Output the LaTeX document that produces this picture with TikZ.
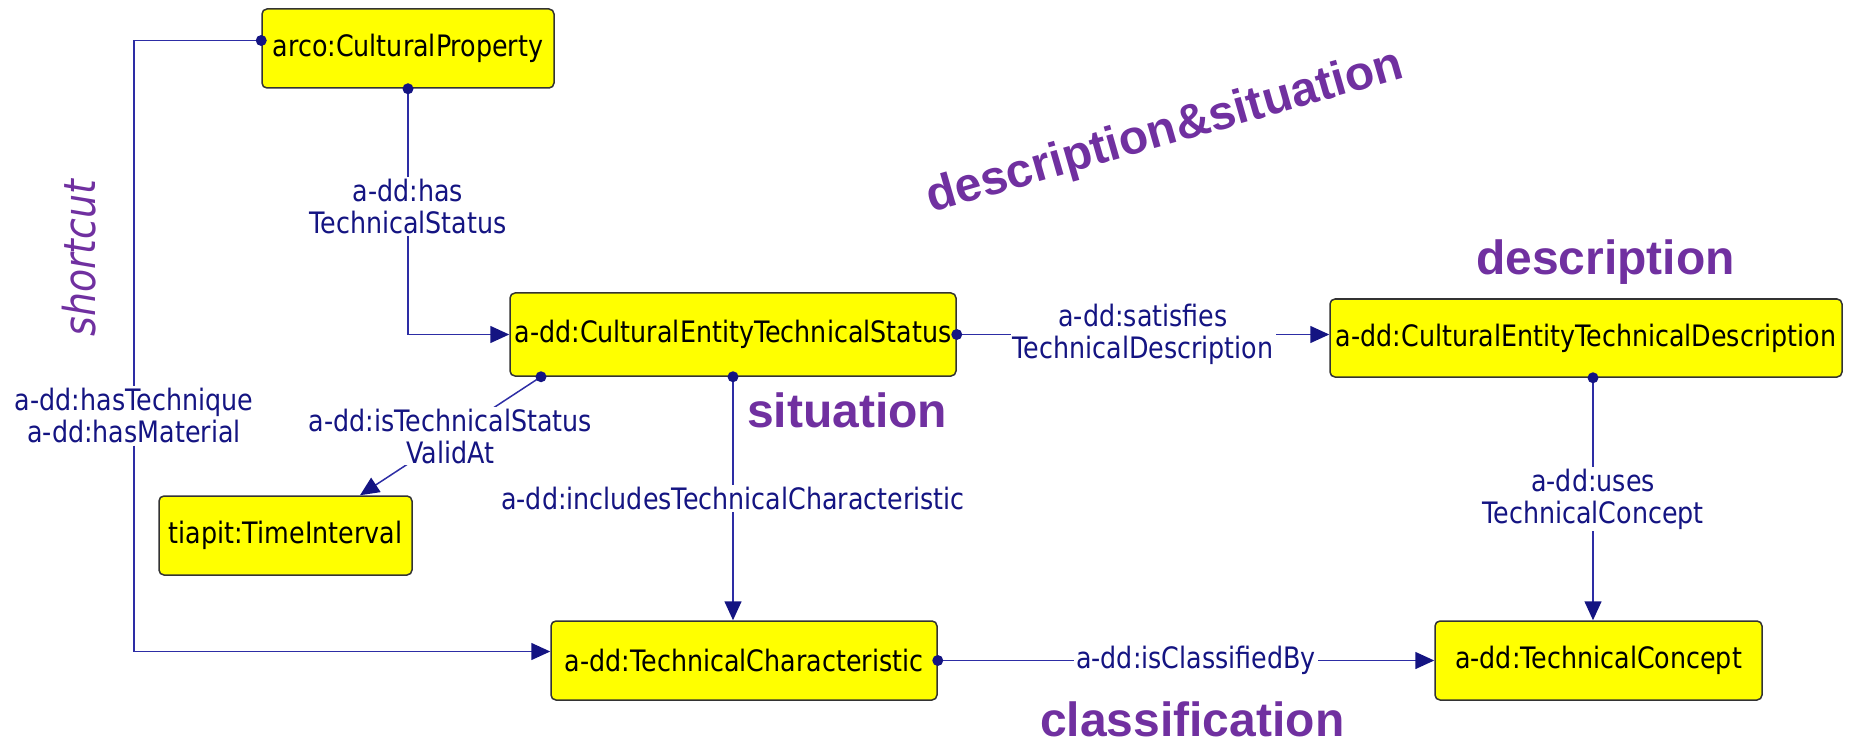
\documentclass[tikz,border=0pt]{standalone}
\usepackage{fontspec}
\setmainfont{DejaVu Sans}
\newfontfamily\lucida[FakeStretch=0.86]{DejaVu Sans}
\newfontfamily\arialfont{Liberation Sans}
\usetikzlibrary{arrows.meta}
\definecolor{navy}{RGB}{20,20,130}
\definecolor{linec}{RGB}{45,45,165}
\definecolor{purp}{RGB}{112,48,160}
\definecolor{boxy}{RGB}{255,255,0}
\begin{document}
\begin{tikzpicture}[x=1pt,y=-1pt,
  cls/.style={draw=black!80, line width=1.5pt, fill=boxy, rounded corners=5pt,
    font=\lucida\fontsize{29.5}{32}\selectfont, inner sep=0pt, text=black},
  conn/.style={draw=linec, line width=1.5pt},
  rel/.style={conn, -{Triangle[length=19pt,width=17pt,color=navy,fill=navy]}},
  elab/.style={fill=white, text=navy, align=center, inner sep=2pt,
    font=\lucida\fontsize{29.5}{32}\selectfont},
  dotn/.style={circle, fill=navy, inner sep=0pt, minimum size=11pt},
  purlab/.style={text=purp, font=\arialfont\bfseries\fontsize{48}{52}\selectfont, inner sep=0pt}
]
\useasboundingbox (0,0) rectangle (1860,743);

% classes
\node[cls, minimum width=292pt, minimum height=79pt] (cp) at (408,48.5) {arco:CulturalProperty};
\node[cls, minimum width=446pt, minimum height=83pt] (cets) at (733,334.5) {a-dd:CulturalEntityTechnicalStatus};
\node[cls, minimum width=512pt, minimum height=78pt] (cetd) at (1586,338) {a-dd:CulturalEntityTechnicalDescription};
\node[cls, minimum width=253pt, minimum height=79pt] (ti) at (285.5,535.5) {tiapit:TimeInterval};
\node[cls, minimum width=386pt, minimum height=79pt] (tc) at (744,660.5) {a-dd:TechnicalCharacteristic};
\node[cls, minimum width=327pt, minimum height=79pt] (tcon) at (1598.5,660.5) {a-dd:TechnicalConcept};

% anchor coordinates
\coordinate (s0) at ([yshift=8pt]cp.west);
\coordinate (tcin) at ([yshift=9pt]tc.west);
\coordinate (d1) at ([xshift=-192pt]cets.south);
\coordinate (t1) at ([xshift=74.5pt]ti.north);
\coordinate (d2) at ([xshift=7pt]cetd.south);

% hasTechnicalStatus
\draw[rel] (cp.south) |- node[elab, pos=0.24] {a-dd:has\\TechnicalStatus} (cets.west);
% shortcut
\node[elab] (hm) at (134,416) {a-dd:hasTechnique\\a-dd:hasMaterial};
\draw[conn] (s0) -| (hm.north);
\draw[rel] (hm.south) |- (tcin);
% satisfies
\draw[rel] (cets.east) -- node[elab] {a-dd:satisfies\\TechnicalDescription} (cetd.west |- cets.east);
% valid at
\draw[rel] (d1) -- node[elab] {a-dd:isTechnicalStatus\\ValidAt} (t1);
% includes
\draw[rel] (cets.south) -- node[elab] {a-dd:includesTechnicalCharacteristic} (tc.north -| cets.south);
% uses
\draw[rel] (d2) -- node[elab] {a-dd:uses\\TechnicalConcept} (tcon.north -| d2);
% classified
\draw[rel] (tc.east) -- node[elab, pos=0.52] {a-dd:isClassifiedBy} (tcon.west);

% dots
\node[dotn] at (s0) {};
\node[dotn] at (cp.south) {};
\node[dotn] at (cets.east) {};
\node[dotn] at (d1) {};
\node[dotn] at (cets.south) {};
\node[dotn] at (d2) {};
\node[dotn] at (tc.east) {};

% annotations
\node[purlab, rotate=16] (ds) at (1165,133) {description\&situation};
\node[purlab, anchor=base west] (desc) at (1476,275) {description};
\node[purlab, anchor=base west] (sit) at (747,427) {situation};
\node[purlab, anchor=base west] (clas) at (1040,736) {classification};
\node[text=purp, font=\lucida\itshape\fontsize{44}{48}\selectfont, rotate=90, inner sep=0pt] (sc) at (79,258) {shortcut};
\end{tikzpicture}
\end{document}
